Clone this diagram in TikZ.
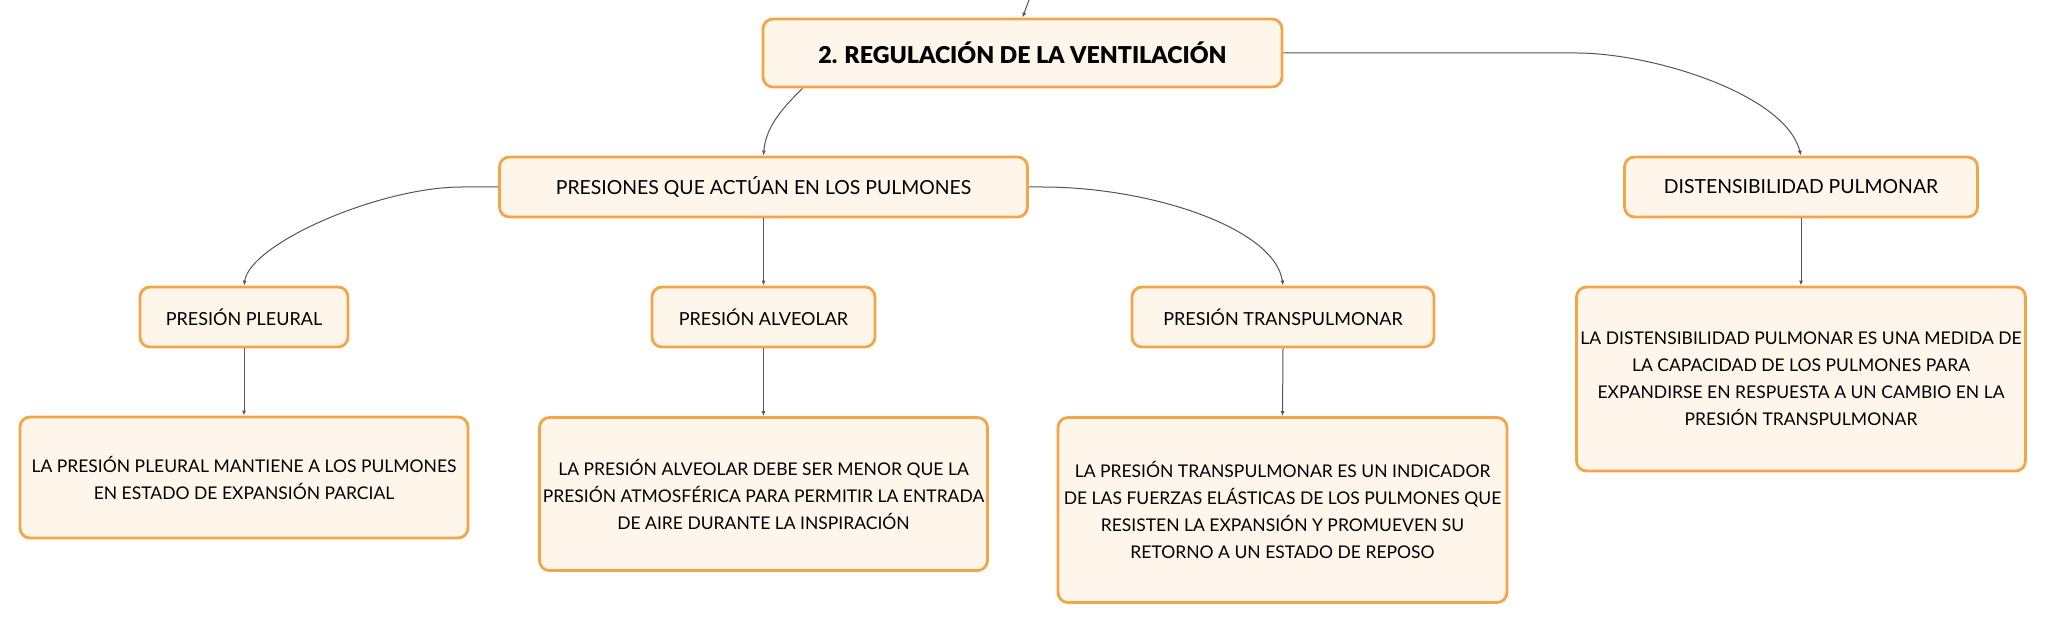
\documentclass[tikz,border=0pt]{standalone}
\usepackage{fontspec}
\setmainfont{Lato}
\newfontfamily\heavyfont{Lato Black}
\usepackage{tikz}
\usetikzlibrary{arrows.meta}

\definecolor{boxfill}{HTML}{FEF5EB}
\definecolor{boxline}{HTML}{F3A548}
\definecolor{linkgray}{HTML}{555555}

\begin{document}
\begin{tikzpicture}[x=0.5pt, y=-0.5pt,
        box/.style={draw=boxline, fill=boxfill, line width=1.4pt, rounded corners=5pt,
            inner sep=0pt, align=center, text=black, font=\fontsize{9}{13.5}\selectfont},
        topic/.style={box, font=\fontsize{9.7}{13.5}\selectfont},
        note/.style={box, font=\fontsize{8.75}{13.5}\selectfont},
        title/.style={box, font=\fontsize{11.6}{15}\heavyfont},
        link/.style={draw=linkgray, line width=0.5pt, -{Latex[length=2.5pt,width=2pt]}}]
        \useasboundingbox (0,0) rectangle (2046,624);

        \coordinate (up) at (1029,0);

        \node[title, minimum width=259.5pt, minimum height=34pt] (root) at (1022.5,53) {2. REGULACIÓN DE LA VENTILACIÓN};

        \node[topic, minimum width=264pt, minimum height=30pt] (pres) at (763.5,187) {PRESIONES QUE ACTÚAN EN LOS PULMONES};
        \node[topic, minimum width=176.5pt, minimum height=30pt] (dist) at (1801,187) {DISTENSIBILIDAD PULMONAR};

        \node[box, minimum width=104pt, minimum height=30pt] (pleu) at (244,317) {PRESIÓN PLEURAL};
        \node[box, minimum width=111.5pt, minimum height=30pt] (alve) at (763.5,317) {PRESIÓN ALVEOLAR};
        \node[box, minimum width=151pt, minimum height=30pt] (tran) at (1283,317) {PRESIÓN TRANSPULMONAR};

        \node[note, minimum width=224pt, minimum height=60.5pt] (tpleu) at (244,477.5)
            {LA PRESIÓN PLEURAL MANTIENE A LOS PULMONES\\EN ESTADO DE EXPANSIÓN PARCIAL};
        \node[note, minimum width=224pt, minimum height=76.5pt] (talve) at (763.5,494)
            {LA PRESIÓN ALVEOLAR DEBE SER MENOR QUE LA\\PRESIÓN ATMOSFÉRICA PARA PERMITIR LA ENTRADA\\DE AIRE DURANTE LA INSPIRACIÓN};
        \node[note, minimum width=224.5pt, minimum height=92.5pt] (ttran) at (1282.5,510)
            {LA PRESIÓN TRANSPULMONAR ES UN INDICADOR\\DE LAS FUERZAS ELÁSTICAS DE LOS PULMONES QUE\\RESISTEN LA EXPANSIÓN Y PROMUEVEN SU\\RETORNO A UN ESTADO DE REPOSO};
        \node[note, minimum width=224.5pt, minimum height=92pt] (tdist) at (1801,379)
            {LA DISTENSIBILIDAD PULMONAR ES UNA MEDIDA DE\\LA CAPACIDAD DE LOS PULMONES PARA\\EXPANDIRSE EN RESPUESTA A UN CAMBIO EN LA\\PRESIÓN TRANSPULMONAR};

        \draw[link] (up) -- (root.north);
        \draw[link] ([xshift=20.5pt]root.south west) .. controls +(-24,23) and +(2,-26) .. (pres.north);
        \draw[link] (root.east) -- ++(293,0) .. controls +(75,0) and +(-16,-62) .. (dist.north);

        \draw[link] (pres.west) -- ++(-36,0) .. controls +(-83,0) and +(6,-42) .. (pleu.north);
        \draw[link] (pres.south) -- (alve.north);
        \draw[link] (pres.east) -- ++(13,0) .. controls +(110,0) and +(-8,-57) .. (tran.north);

        \draw[link] (pleu.south) -- (tpleu.north);
        \draw[link] (alve.south) -- (talve.north);
        \draw[link] (tran.south) -- (ttran.north);
        \draw[link] (dist.south) -- (tdist.north);
    \end{tikzpicture}
\end{document}
